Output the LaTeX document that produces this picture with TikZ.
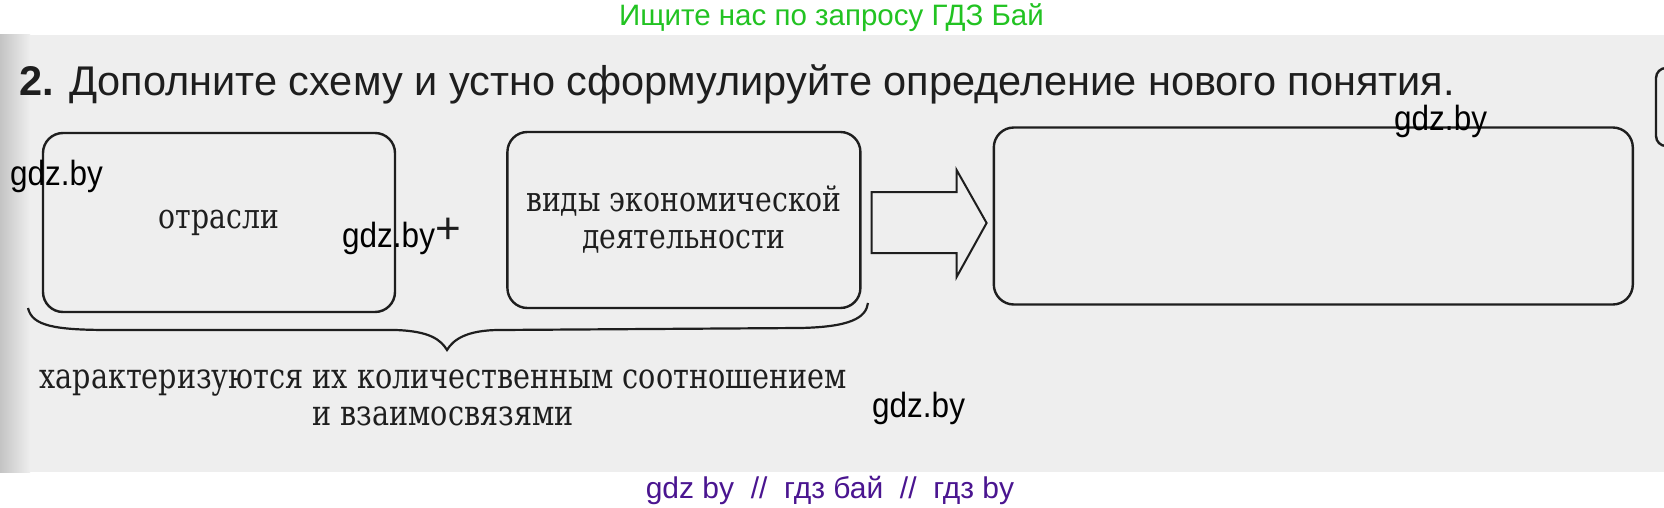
\documentclass[tikz,border=0pt]{standalone}
\usepackage{fontspec}
\setmainfont[FakeStretch=0.91]{DejaVu Serif Condensed}
\newfontfamily\headfont{Liberation Sans}
\newfontfamily\markfont[FakeStretch=0.9]{Liberation Sans}
\usetikzlibrary{positioning}

\definecolor{scan}{HTML}{EEEEEE}
\definecolor{scanedge}{HTML}{C4C4C4}
\definecolor{ink}{HTML}{1E1E1E}
\definecolor{sitegreen}{HTML}{22C322}
\definecolor{sitepurple}{HTML}{4A1590}

\tikzset{
  frame/.style={draw=ink, line width=2.4pt, rounded corners=20pt, inner sep=0pt},
  bigarrow/.style={draw=ink, line width=2pt, line join=miter},
  wmark/.style={anchor=base west, inner sep=0pt, font=\markfont\fontsize{35}{36}\selectfont},
  boxtext/.style={font=\fontsize{34.5}{37}\selectfont, text=ink}
}

\begin{document}
\begin{tikzpicture}[x=1pt, y=-1pt]
                    \useasboundingbox (0,0) rectangle (1664,508);
                    % scanned page
                    \fill[white] (0,0) rectangle (1664,508);
                    \fill[scan] (0,35) rectangle (1664,472);
                    \shade[left color=scanedge, right color=scan] (0,35) rectangle (30,472);
                    \draw[ink, line width=2.4pt, rounded corners=10pt] (1700,68) -- (1656,68) -- (1656,146) -- (1700,146);

                    \node[anchor=base, inner sep=0pt, text=sitegreen, font=\headfont\fontsize{29.5}{30}\selectfont] (head) at (831.5,26) {Ищите нас по запросу ГДЗ Бай};
                    \node[anchor=base west, inner sep=0pt, text=ink, font=\headfont\fontsize{41.5}{44}\selectfont] (title) at (19,96) {\textbf{2.} Дополните схему и устно сформулируйте определение нового понятия.};

                    % scheme
                    \node[frame, boxtext, minimum width=352pt, minimum height=179pt] (otr) at (219,222.5) {отрасли};
                    \node[frame, boxtext, align=center, minimum width=353pt, minimum height=176pt, right=110pt of otr, yshift=2.5pt] (vid) {виды экономической\\деятельности};
                    \node[inner sep=0pt, text=ink, font=\headfont\fontsize{44}{44}\selectfont] (plus) at (448,231) {+};
                    \draw[bigarrow] ([xshift=10pt, yshift=28pt]vid.east) -- ++(85,0) -- ++(0,-22) -- ++(30,53)
                      -- ++(-30,54) -- ++(0,-24) -- ++(-85,0) -- cycle;
                    \node[frame, minimum width=639pt, minimum height=177pt, right=131pt of vid, yshift=4pt] (res) {};

                    % brace
                    \coordinate (bl) at (28,308);
                    \coordinate (tip) at (447,350);
                    \coordinate (br) at (868,303);
                    \draw[ink, line width=2.2pt] (bl) .. controls (32,326) and (55,330) .. (110,330) -- (395,330)
                      .. controls (430,331) and (441,340) .. (tip)
                      .. controls (453,340) and (466,330) .. (500,330) -- (800,328)
                      .. controls (850,327) and (866,318) .. (br);
                    \node[align=center, text=ink, font=\fontsize{35}{37}\selectfont] (note) at (443,398) {характеризуются их количественным соотношением\\и взаимосвязями};

                    \foreach \px/\py [count=\i] in {10/185, 342/247, 1394/131, 872/417}
                    \node[wmark] (wm\i) at (\px,\py) {gdz.by};

                    \node[anchor=base, inner sep=0pt, text=sitepurple, font=\headfont\fontsize{30}{30}\selectfont] (foot) at (830,498) {gdz by \ // \ гдз бай \ // \ гдз by};
                \end{tikzpicture}
\end{document}
